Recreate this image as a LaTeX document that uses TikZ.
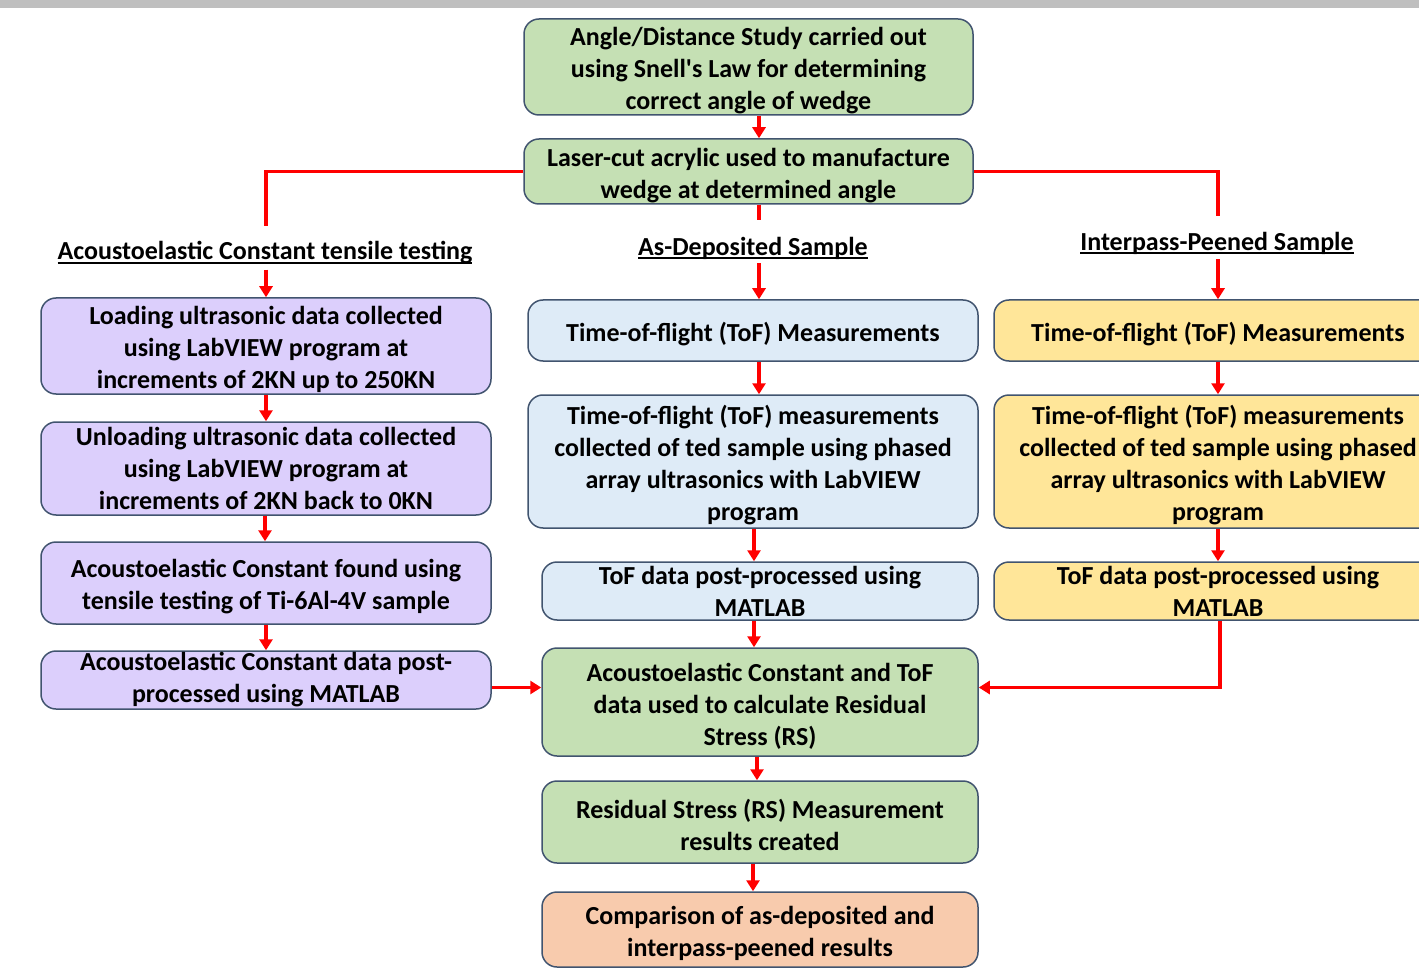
\documentclass[tikz,border=0pt]{standalone}
\usepackage{fontspec}
\setmainfont{Carlito}
\usetikzlibrary{arrows.meta}
\definecolor{gbar}{HTML}{BFBFBF}
\definecolor{bord}{HTML}{41546F}
\definecolor{fgreen}{HTML}{C5E0B4}
\definecolor{fblue}{HTML}{DEEBF7}
\definecolor{fyellow}{HTML}{FFE699}
\definecolor{fpurple}{HTML}{DCCFFC}
\definecolor{forange}{HTML}{F8CBAD}
\definecolor{ared}{HTML}{FF0000}
\newcommand\myul[1]{\setbox0=\hbox{#1}\leavevmode\rlap{\rule[-4pt]{\wd0}{1.6pt}}\box0}
\newcommand\st{\rule{0pt}{26pt}}
\begin{document}
\begin{tikzpicture}[x=1pt,y=-1pt,
  box/.style={draw=bord, line width=1.5pt, rounded corners=15pt, align=center, inner sep=0pt,
    font=\fontsize{26}{32}\selectfont\bfseries},
  lab/.style={inner sep=0pt, font=\fontsize{26}{32}\selectfont\bfseries},
  ln/.style={draw=ared, line width=3.5pt},
  arr/.style={ln, -{Triangle[width=13pt,length=11pt]}}]
\useasboundingbox (0,0) rectangle (1419,968);
\fill[gbar] (0,0) rectangle (1419,8);

% top
\node[box, fill=fgreen, minimum width=449, minimum height=96] (b1) at (748.5,67)
  {\st Angle/Distance Study carried out\\using Snell\textquotesingle s Law for determining\\correct angle of wedge};
\node[box, fill=fgreen, minimum width=449, minimum height=65] (b2) at (748.5,171.5)
  {\st Laser-cut acrylic used to manufacture\\wedge at determined angle};

% labels
\node[lab] (labL) at (265,253) {\myul{Acoustoelastic Constant tensile testing}};
\node[lab] (labM) at (753,248) {\myul{As-Deposited Sample}};
\node[lab] (labR) at (1217,243) {\myul{Interpass-Peened Sample}};

% left column
\node[box, fill=fpurple, minimum width=450, minimum height=96] (L1) at (266,346)
  {\st Loading ultrasonic data collected\\using LabVIEW program at\\increments of 2KN up to 250KN};
\node[box, fill=fpurple, minimum width=450, minimum height=93] (L2) at (266,468.5)
  {Unloading ultrasonic data collected\\using LabVIEW program at\\increments of 2KN back to 0KN};
\node[box, fill=fpurple, minimum width=450, minimum height=82] (L3) at (266,583)
  {\st Acoustoelastic Constant found using\\tensile testing of Ti-6Al-4V sample};
\node[box, fill=fpurple, minimum width=450, minimum height=58] (L4) at (266,680)
  {Acoustoelastic Constant data post-\\processed using MATLAB};

% middle column
\node[box, fill=fblue, minimum width=450, minimum height=61] (M1) at (753,330.5)
  {\st Time-of-flight (ToF) Measurements};
\node[box, fill=fblue, minimum width=450, minimum height=133] (M2) at (753,461.5)
  {\st Time-of-flight (ToF) measurements\\collected of ted sample using phased\\array ultrasonics with LabVIEW\\program};
\node[box, fill=fblue, minimum width=436, minimum height=58] (M3) at (760,591)
  {ToF data post-processed using\\MATLAB};
\node[box, fill=fgreen, minimum width=436, minimum height=108] (C4) at (760,702)
  {\st Acoustoelastic Constant and ToF\\data used to calculate Residual\\Stress (RS)};
\node[box, fill=fgreen, minimum width=436, minimum height=82] (C5) at (760,822)
  {\st Residual Stress (RS) Measurement\\results created};
\node[box, fill=forange, minimum width=436, minimum height=75] (C6) at (760,929.5)
  {\st Comparison of as-deposited and\\interpass-peened results};

% right column
\node[box, fill=fyellow, minimum width=448, minimum height=61] (R1) at (1218,330.5)
  {\st Time-of-flight (ToF) Measurements};
\node[box, fill=fyellow, minimum width=448, minimum height=133] (R2) at (1218,461.5)
  {\st Time-of-flight (ToF) measurements\\collected of ted sample using phased\\array ultrasonics with LabVIEW\\program};
\node[box, fill=fyellow, minimum width=448, minimum height=58] (R3) at (1218,591)
  {ToF data post-processed using\\MATLAB};

% helper coordinates
\coordinate (cL) at (266,226);
\coordinate (cR) at (1218,216);
\coordinate (cM) at (759,220);
\coordinate (yarr) at (0,687.5);

% connectors
\draw[arr] (b1.south -| cM) -- (b2.north -| cM);
\draw[ln] (b2.west) -| (cL);
\draw[ln] (b2.east) -| (cR);
\draw[ln] (b2.south -| cM) -- (cM);

\draw[arr, shorten <=5pt] (labL.south -| cL) -- (L1.north -| cL);
\draw[arr] (L1.south) -- (L2.north);
\draw[arr] ([xshift=-1]L2.south) -- ([xshift=-1]L3.north);
\draw[arr] (L3.south) -- (L4.north);

\draw[arr, shorten <=4pt] (labM.south -| cM) -- (M1.north -| cM);
\draw[arr] (M1.south -| cM) -- (M2.north -| cM);
\draw[arr] ([xshift=1]M2.south) -- ([xshift=1]M2.south |- M3.north);
\draw[arr] ([xshift=-6]M3.south) -- ([xshift=-6]C4.north);
\draw[arr] ([xshift=-3]C4.south) -- ([xshift=-3]C5.north);
\draw[arr] ([xshift=-7]C5.south) -- ([xshift=-7]C6.north);

\draw[arr, shorten <=5pt] (labR.south -| cR) -- (R1.north -| cR);
\draw[arr] (R1.south) -- (R2.north);
\draw[arr] (R2.south) -- (R3.north);

\draw[arr] (L4.east |- yarr) -- (C4.west |- yarr);
\draw[arr] ([xshift=2]R3.south) |- (C4.east |- yarr);
\end{tikzpicture}
\end{document}
